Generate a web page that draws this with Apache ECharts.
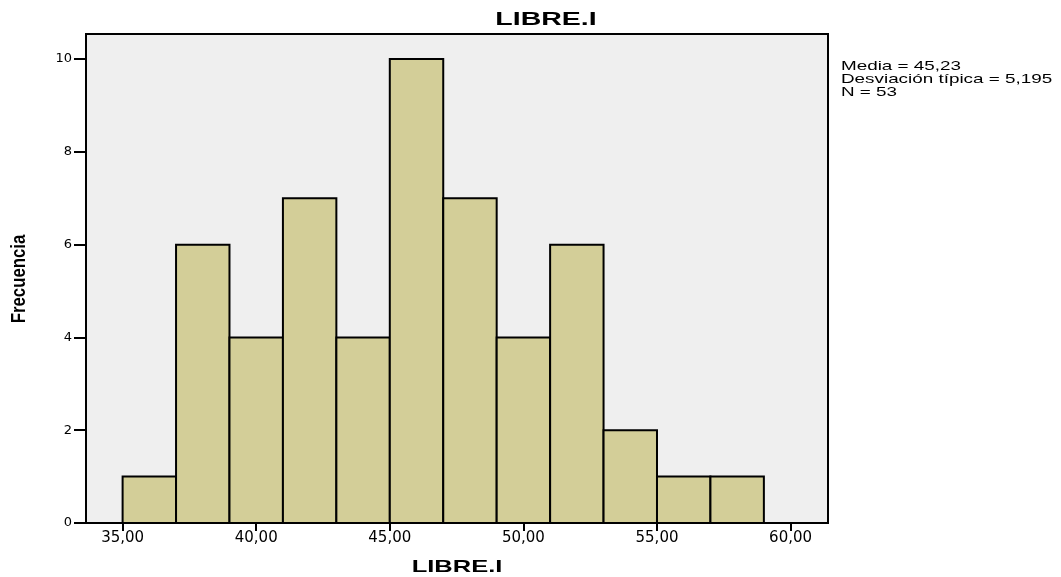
<!DOCTYPE html>
<html><head><meta charset="utf-8">
<script src="https://cdn.jsdelivr.net/npm/echarts@6/dist/echarts.min.js"></script>
<style>html,body{margin:0;padding:0;background:#fff}#c{width:1061px;height:577px}</style>
</head><body><div id="c"></div>
<script>
const binStarts = [35, 37, 39, 41, 43, 45, 47, 49, 51, 53, 55, 57];
const binWidth = 2;
const counts = [1, 6, 4, 7, 4, 10, 7, 4, 6, 2, 1, 1];
const xTicks = [35, 40, 45, 50, 55, 60];
const yTicks = [0, 2, 4, 6, 8, 10];
const titleText = 'LIBRE.I';
const xName = 'LIBRE.I';
const yName = 'Frecuencia';
const statsLines = ['Media = 45,23', 'Desviación típica = 5,195', 'N = 53'];

const data = binStarts.map((s, i) => [s, s + binWidth, counts[i]]);
const chart = echarts.init(document.getElementById('c'));
const F = 'Liberation Sans, Arial, sans-serif';
const D = 'DejaVu Sans, Verdana, sans-serif';
chart.setOption({
  animation: false,
  graphic: [
    { type: 'text', x: 546, y: 20, scaleX: 1.5,
      style: { text: titleText, fontFamily: F, fontWeight: 'bold', fontSize: 19, fill: '#000', align: 'center', verticalAlign: 'middle' } },
    { type: 'text', x: 457, y: 567, scaleX: 1.5,
      style: { text: xName, fontFamily: F, fontWeight: 'bold', fontSize: 17, fill: '#000', align: 'center', verticalAlign: 'middle' } },
    { type: 'text', x: 19, y: 279, rotation: Math.PI / 2, scaleX: 0.84,
      style: { text: yName, fontFamily: F, fontWeight: 'bold', fontSize: 20, fill: '#000', align: 'center', verticalAlign: 'middle' } },
    { type: 'text', x: 841, y: 60, scaleX: 1.45,
      style: { text: statsLines.join('\n'), fontFamily: F, fontSize: 13, lineHeight: 13, fill: '#000' } }
  ],
  grid: { left: 86, top: 34, right: 233, bottom: 54, show: true, backgroundColor: '#EFEFEF', borderColor: '#000', borderWidth: 2 },
  xAxis: { type: 'value', min: 33.63, max: 61.4,
    axisLine: { show: true, onZero: false, lineStyle: { color: '#000', width: 2 } },
    axisTick: { show: true, length: 8, customValues: xTicks, lineStyle: { color: '#000', width: 2 } },
    axisLabel: { customValues: xTicks, fontFamily: D, fontSize: 15, color: '#000', margin: 8,
      formatter: v => v.toFixed(2).replace('.', ',') },
    splitLine: { show: false } },
  yAxis: { type: 'value', min: 0, max: 10.54,
    axisLine: { show: true, lineStyle: { color: '#000', width: 2 } },
    axisTick: { show: true, length: 12, customValues: yTicks, lineStyle: { color: '#000', width: 2 } },
    axisLabel: { customValues: yTicks, fontFamily: D, fontSize: 13, color: '#000', margin: 14 },
    splitLine: { show: false } },
  series: [{
    type: 'custom', data: data, encode: { x: [0, 1], y: 2 },
    renderItem: (params, api) => {
      const p0 = api.coord([api.value(0), 0]);
      const p1 = api.coord([api.value(1), api.value(2)]);
      return { type: 'rect', shape: { x: p0[0], y: p1[1], width: p1[0] - p0[0], height: p0[1] - p1[1] },
        style: { fill: '#D3CE98', stroke: '#000', lineWidth: 2 } };
    }
  }]
});
</script></body></html>
